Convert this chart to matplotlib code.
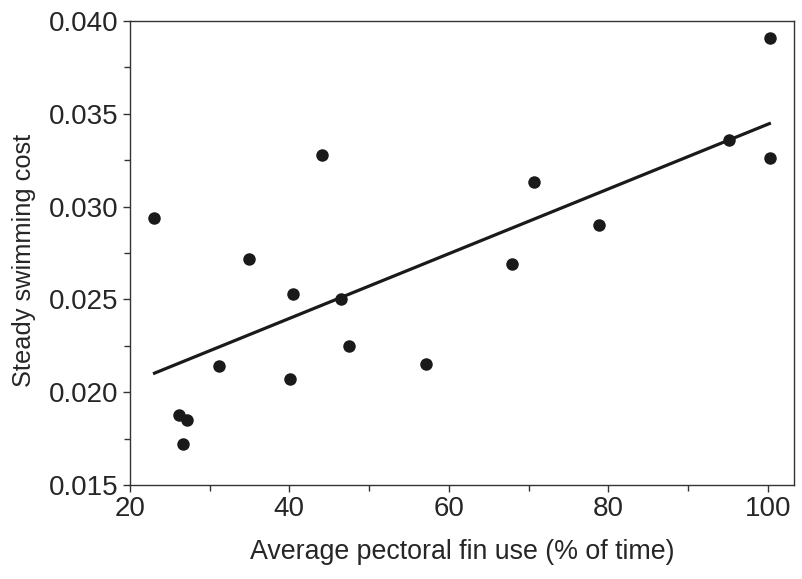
import matplotlib
matplotlib.use("Agg")
import matplotlib.pyplot as plt
from matplotlib.ticker import MultipleLocator
import numpy as np

plt.rcParams['font.family'] = ['Liberation Sans', 'DejaVu Sans']

fin_use = [23.0, 44.1, 34.9, 40.4, 31.2, 40.1, 26.1, 27.1, 26.7,
           46.5, 47.5, 57.2, 67.9, 70.7, 78.9, 95.2, 100.3, 100.3]
swim_cost = [0.0294, 0.0328, 0.0272, 0.0253, 0.0214, 0.0207, 0.0188, 0.0185, 0.0172,
             0.0250, 0.0225, 0.0215, 0.0269, 0.0313, 0.0290, 0.0336, 0.0391, 0.0326]
fit_x = [22.9, 100.4]
fit_y = [0.0210, 0.0345]

fig = plt.figure(figsize=(8.02, 5.79), dpi=100)
ax = fig.add_axes([0.162, 0.162, 0.828, 0.802])

ax.plot(fit_x, fit_y, color='#1a1a1a', lw=2.3, solid_capstyle='butt', zorder=2)
ax.plot(fin_use, swim_cost, 'o', color='#1a1a1a', ms=9, mec='none', zorder=3)

ax.set_xlim(20, 103.3)
ax.set_ylim(0.015, 0.040)
ax.xaxis.set_major_locator(MultipleLocator(20))
ax.xaxis.set_minor_locator(MultipleLocator(10))
ax.yaxis.set_major_locator(MultipleLocator(0.005))
ax.yaxis.set_minor_locator(MultipleLocator(0.0025))
ax.yaxis.set_major_formatter(matplotlib.ticker.FormatStrFormatter('%.3f'))

for s in ax.spines.values():
    s.set_color('#333333')
    s.set_linewidth(1.0)
ax.tick_params(which='both', direction='out', color='#333333', width=1.0,
               top=False, right=False, labelsize=20, labelcolor='#262626')
ax.tick_params(which='major', length=5, pad=3)
ax.tick_params(which='minor', length=4)

ax.set_xlabel('Average pectoral fin use (% of time)', fontsize=19.3, color='#262626', labelpad=12)
ax.set_ylabel('Steady swimming cost', fontsize=18.3, color='#262626')
ax.yaxis.set_label_coords(-0.142, 0.485)

fig.savefig('out.png', dpi=100)
